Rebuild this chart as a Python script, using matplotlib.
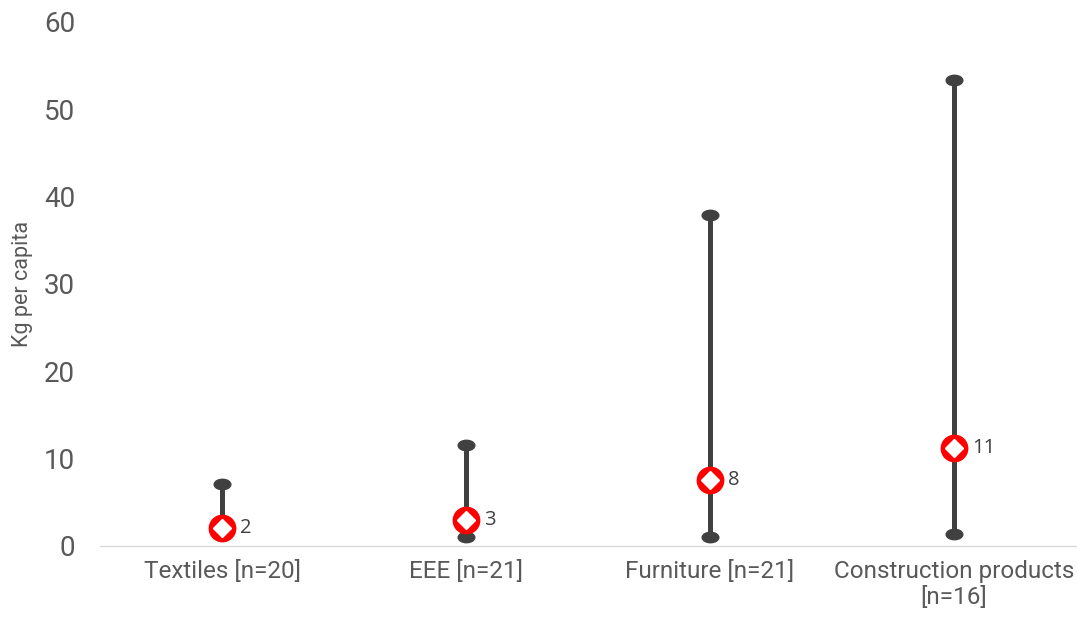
import numpy as np
import matplotlib.pyplot as plt
from matplotlib.path import Path
from matplotlib.transforms import Affine2D

categories = ["Textiles [n=20]", "EEE [n=21]", "Furniture [n=21]", "Construction products\n[n=16]"]
lows = [1.6, 1.0, 1.0, 1.4]
highs = [7.1, 11.6, 37.9, 53.3]
medians = [2.0, 3.0, 7.6, 11.2]
median_labels = ["2", "3", "8", "11"]

grey = "#404040"
text_grey = "#595959"

cap = Path.unit_circle().transformed(Affine2D().scale(1.6, 1.0))

fig = plt.figure(figsize=(10.77, 6.19), dpi=100)
ax = fig.add_axes([0.0929, 0.118, 0.906, 0.8465])

x = np.arange(len(categories))
ax.vlines(x, lows, highs, color=grey, lw=3.6, zorder=2)
ax.plot(x, highs, ls="none", marker=cap, ms=12, color=grey, zorder=3)
ax.plot(x, lows, ls="none", marker=cap, ms=12, color=grey, zorder=3)
ax.plot(x, medians, ls="none", marker="o", ms=19, mfc="red", mec="red", zorder=4)
ax.plot(x, medians, ls="none", marker="D", ms=9, mfc="white", mec="white", zorder=5)

for xi, m, lab in zip(x, medians, median_labels):
    ax.annotate(lab, (xi, m), xytext=(13, 0), textcoords="offset points",
                va="center", ha="left", fontsize=14.5, color=grey, family="Open Sans")

ax.set_xlim(-0.5, len(categories) - 0.5)
ax.set_ylim(0, 60)
ax.set_yticks(range(0, 61, 10))
ax.set_xticks(x)
ax.set_xticklabels(categories)
for lab in ax.get_xticklabels():
    lab.set_fontfamily("Roboto")
    lab.set_fontsize(17.5)
    lab.set_color(text_grey)
for lab in ax.get_yticklabels():
    lab.set_fontfamily("Roboto")
    lab.set_fontsize(20)
    lab.set_color(text_grey)
ax.tick_params(axis="both", length=0)
ax.tick_params(axis="y", pad=18)
ax.tick_params(axis="x", pad=10)
ax.set_ylabel("Kg per capita", fontsize=15.5, color=text_grey, family="Roboto", labelpad=8)

for s in ["top", "right", "left"]:
    ax.spines[s].set_visible(False)
ax.spines["bottom"].set_color("#d9d9d9")
ax.spines["bottom"].set_linewidth(1)

fig.savefig("out.png", dpi=100)
